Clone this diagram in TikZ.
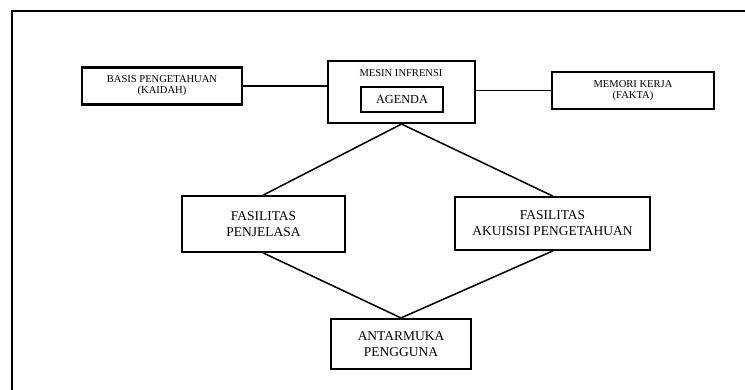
\documentclass[tikz,border=0pt]{standalone}
\usepackage{fontspec}
\setmainfont{Liberation Serif}
\usetikzlibrary{positioning}

\tikzset{
  box/.style={draw, line width=1.8pt, align=center, inner sep=0pt,
    font=\fontsize{11.5}{13.6}\selectfont},
  smallbox/.style={box, font=\fontsize{9}{9.5}\selectfont},
  link/.style={line width=1.3pt},
}

\begin{document}
\begin{tikzpicture}[x=0.03cm, y=-0.03cm]
  \useasboundingbox (0,0) rectangle (745,390);
  % frame
  \draw[line width=1.8pt] (12,390) |- (745,11);

  \node[smallbox, minimum width=4.8cm,  minimum height=1.11cm] (basis)  at (162,86)    {BASIS PENGETAHUAN\\(KAIDAH)};
  \node[box,      minimum width=4.41cm, minimum height=1.86cm] (mesin)  at (401.5,92)  {};
  \node[font=\fontsize{9}{9.5}\selectfont]                     (judul)  at (401,73)    {MESIN INFRENSI};
  \node[box, line width=1.5pt, font=\fontsize{10.5}{12}\selectfont,
        minimum width=2.46cm, minimum height=0.75cm]           (agenda) at (402,99.5)  {AGENDA};
  \node[smallbox, minimum width=4.86cm, minimum height=1.11cm] (memori) at (633,90.5)  {MEMORI KERJA\\(FAKTA)};

  \node[box, minimum width=4.89cm, minimum height=1.68cm] (penjelas)  at (263.5,224)  {FASILITAS\\PENJELASA};
  \node[box, minimum width=5.85cm, minimum height=1.59cm] (akuisisi)  at (552.5,223.5) {FASILITAS\\AKUISISI PENGETAHUAN};
  \node[box, minimum width=4.2cm,  minimum height=1.5cm]  (antarmuka) at (401,344)    {ANTARMUKA\\PENGGUNA};

  \draw[link] (basis.east) -- (basis.east -| mesin.west);
  \draw[link] (mesin.east |- memori.west) -- (memori.west);
  \draw[link] (mesin.south) -- (penjelas.north);
  \draw[link] (mesin.south) -- (akuisisi.north);
  \draw[link] (penjelas.south) -- (antarmuka.north);
  \draw[link] (akuisisi.south) -- (antarmuka.north);
\end{tikzpicture}
\end{document}
